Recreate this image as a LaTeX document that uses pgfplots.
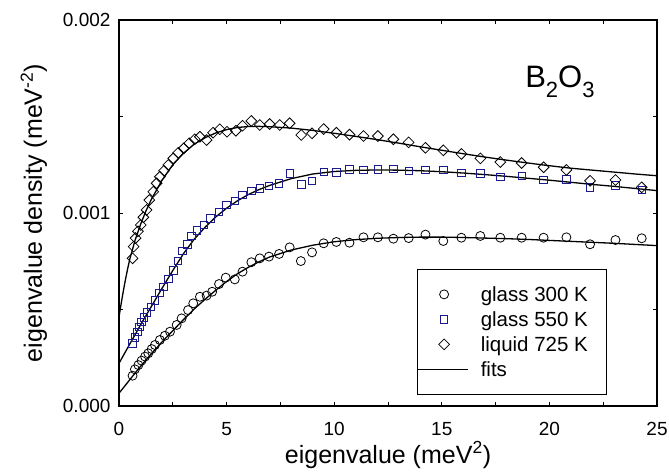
\documentclass[border=0pt]{standalone}
\usepackage{pgfplots}
\pgfplotsset{compat=1.18}
\usepackage{fontspec}
\setmainfont{Liberation Sans}
\definecolor{sqblue}{HTML}{1A1A8C}
\pgfplotsset{
  markleg/.style={legend image code/.code={\path (0pt,0pt) (58pt,0pt);\draw[##1,mark repeat=2,mark phase=2] plot coordinates {(0pt,0pt)(26pt,0pt)(52pt,0pt)};}},
  fitleg/.style={legend image code/.code={\path (0pt,0pt) (58pt,0pt);\draw[##1] (0pt,0pt) -- (50pt,0pt);}},
}
\newcommand{\legtext}[1]{\makebox[122pt][l]{#1}}

% densities in units of 1e-3 meV^-2
\pgfplotstableread{
x y
0.63 0.157
0.74 0.190
0.90 0.212
1.05 0.235
1.21 0.256
1.36 0.273
1.52 0.295
1.67 0.316
1.90 0.342
2.13 0.364
2.37 0.385
2.68 0.420
2.91 0.454
3.21 0.497
3.45 0.532
3.76 0.566
4.07 0.572
4.33 0.592
4.65 0.632
4.96 0.665
5.38 0.656
5.74 0.696
6.15 0.745
6.54 0.765
6.97 0.774
7.44 0.788
7.93 0.822
8.45 0.751
8.97 0.796
9.51 0.843
10.10 0.850
10.71 0.846
11.36 0.874
12.03 0.874
12.75 0.867
13.46 0.870
14.24 0.888
15.07 0.855
15.91 0.872
16.79 0.881
17.72 0.872
18.71 0.872
19.73 0.872
20.79 0.874
21.89 0.838
23.07 0.860
24.29 0.869
}\glassA

\pgfplotstableread{
x y
0.63 0.325
0.74 0.356
0.85 0.385
0.94 0.411
1.05 0.437
1.16 0.460
1.31 0.485
1.47 0.515
1.67 0.548
1.87 0.585
2.06 0.618
2.29 0.660
2.52 0.703
2.75 0.752
2.95 0.805
3.17 0.838
3.37 0.880
3.63 0.910
3.94 0.938
4.25 0.972
4.65 1.007
5.00 1.041
5.38 1.064
5.74 1.093
6.15 1.116
6.54 1.128
6.97 1.140
7.44 1.154
7.93 1.206
8.47 1.149
8.97 1.166
9.51 1.212
10.10 1.211
10.71 1.226
11.36 1.223
12.03 1.226
12.75 1.230
13.46 1.219
14.24 1.224
15.07 1.223
15.91 1.209
16.79 1.206
17.72 1.188
18.71 1.192
19.73 1.171
20.79 1.175
21.89 1.133
23.07 1.144
24.29 1.119
}\glassB

\pgfplotstableread{
x y
0.63 0.765
0.68 0.826
0.77 0.870
0.88 0.905
1.01 0.938
1.13 0.978
1.28 1.016
1.41 1.067
1.59 1.110
1.75 1.154
1.90 1.188
2.09 1.219
2.29 1.249
2.52 1.283
2.75 1.312
3.01 1.335
3.26 1.361
3.52 1.382
3.76 1.395
4.07 1.378
4.37 1.416
4.68 1.434
5.02 1.421
5.43 1.426
5.74 1.452
6.15 1.477
6.54 1.456
7.00 1.461
7.47 1.456
7.93 1.465
8.47 1.404
8.97 1.413
9.51 1.435
10.10 1.416
10.71 1.406
11.36 1.399
12.03 1.399
12.75 1.382
13.46 1.366
14.24 1.338
15.07 1.325
15.91 1.306
16.79 1.283
17.72 1.264
18.71 1.259
19.73 1.237
20.79 1.223
21.89 1.167
23.07 1.171
24.29 1.133
}\liquid

% fit curves
\pgfplotstableread{
x a b c
0 0.066 0.221 0.460
0.1 0.080 0.241 0.530
0.2 0.094 0.261 0.595
0.3 0.108 0.281 0.655
0.4 0.122 0.301 0.710
0.5 0.136 0.321 0.760
0.75 0.171 0.370 0.860
1 0.205 0.420 0.940
1.25 0.238 0.468 1.010
1.5 0.270 0.515 1.070
2 0.332 0.610 1.170
2.5 0.390 0.702 1.250
3 0.448 0.790 1.310
3.5 0.503 0.865 1.357
4 0.553 0.926 1.390
4.5 0.600 0.980 1.415
5 0.645 1.025 1.432
5.5 0.685 1.063 1.443
6 0.718 1.095 1.448
6.5 0.747 1.121 1.449
7 0.772 1.143 1.447
8 0.808 1.178 1.440
9 0.833 1.202 1.428
10 0.851 1.215 1.413
11 0.862 1.221 1.397
12 0.869 1.223 1.380
13 0.873 1.222 1.362
14 0.875 1.219 1.343
15 0.875 1.214 1.325
16 0.873 1.207 1.307
17 0.870 1.199 1.290
18 0.867 1.190 1.274
19 0.863 1.180 1.259
20 0.858 1.170 1.245
21 0.853 1.159 1.232
22 0.848 1.148 1.222
23 0.843 1.138 1.212
24 0.837 1.127 1.202
25 0.831 1.116 1.193
}\fits

\begin{document}
\begin{tikzpicture}
\begin{axis}[
  name=main,
  scale only axis,
  width=538pt, height=386pt,
  xmin=0, xmax=25, ymin=0, ymax=2,
  xtick={0,5,...,25}, minor x tick num=1,
  ytick={0,1,2}, yticklabels={0.000,0.001,0.002}, minor y tick num=1,
  tick align=inside,
  major tick length=4pt, minor tick length=4pt,
  axis line style={line width=1.3pt},
  every tick/.style={black, line width=0.9pt},
  tick label style={font=\fontsize{19}{22}\selectfont},
  /pgf/number format/assume math mode=true,
  xticklabel style={anchor=base, yshift=-29pt},
  yticklabel style={xshift=-5pt},
  xlabel={eigenvalue (meV\textsuperscript{2})},
  ylabel={eigenvalue density (meV\textsuperscript{-2})},
  every axis x label/.style={at={(rel axis cs:0.5,0)}, yshift=-57pt, anchor=base,
    font=\fontsize{25}{28}\selectfont},
  every axis y label/.style={at={(rel axis cs:0,0.5)}, xshift=-77pt, rotate=90, anchor=base,
    font=\fontsize{25}{28}\selectfont},
  legend style={at={(0.554,0.355)}, anchor=north west, draw=black, line width=0.8pt,
    inner xsep=0pt, inner ysep=15.5pt, row sep=6pt,
    font=\fontsize{20.5}{23}\selectfont,
    nodes={inner xsep=4pt, inner ysep=0pt, text height=17pt, text depth=2pt}},
  legend cell align=left,
]
\addplot[only marks, mark=o, mark size=4.5pt, mark options={line width=0.8pt, black}, markleg] table {\glassA};
\addlegendentry{\legtext{glass 300 K}}
\addplot[only marks, mark=square, mark size=3.7pt, mark options={line width=0.8pt, sqblue}, markleg] table {\glassB};
\addlegendentry{\legtext{glass 550 K}}
\addplot[only marks, mark=square, mark size=3.8pt, mark options={line width=0.8pt, black, rotate=45}, markleg] table {\liquid};
\addlegendentry{\legtext{liquid 725 K}}
\addplot[black, line width=1.3pt, fitleg] table[y=a] {\fits};
\addlegendentry{\legtext{fits}}
\addplot[black, line width=1.3pt, forget plot] table[y=b] {\fits};
\addplot[black, line width=1.3pt, forget plot] table[y=c] {\fits};
\node[anchor=base west, inner sep=0pt, font=\fontsize{31}{34}\selectfont] at (axis cs:18.87,1.648)
  {B\raisebox{-10pt}{\fontsize{22}{24}\selectfont 2}O\raisebox{-10pt}{\fontsize{22}{24}\selectfont 3}};
\end{axis}
\pgfresetboundingbox
\path ([shift={(-119pt,-68pt)}]main.south west) rectangle ([shift={(12pt,20pt)}]main.north east);
\end{tikzpicture}
\end{document}
